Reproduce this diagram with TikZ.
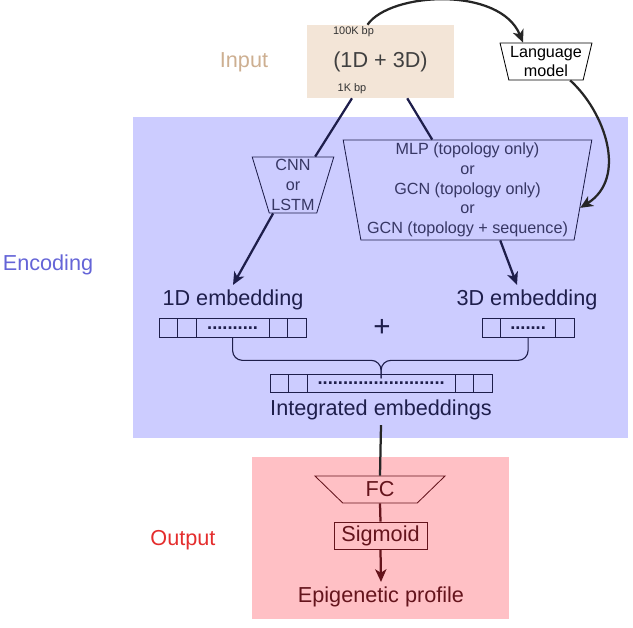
\documentclass[tikz,border=0pt]{standalone}
\usepackage{fontspec}
\setmainfont{Liberation Sans}
\usetikzlibrary{shapes.geometric,arrows.meta,calc}

\definecolor{inbg}{RGB}{243,229,215}
\definecolor{encbg}{RGB}{204,204,255}
\definecolor{outbg}{RGB}{255,192,197}
\definecolor{intxt}{RGB}{205,175,145}
\definecolor{enctxt}{RGB}{100,100,215}
\definecolor{outtxt}{RGB}{228,45,45}
\definecolor{navy}{RGB}{30,30,75}
\definecolor{navytxt}{RGB}{55,55,100}
\definecolor{darkred}{RGB}{100,20,28}

\begin{document}
\begin{tikzpicture}[x=0.025cm,y=-0.025cm,
  bigtext/.style={font=\fontsize{15.4}{18}\selectfont},
  midtext/.style={font=\fontsize{11.5}{14}\selectfont},
  bptext/.style={font=\fontsize{7.8}{9}\selectfont, text=black!80},
  trap/.style={trapezium, shape border rotate=180, trapezium stretches=true, draw, inner sep=0.5pt, align=center, line width=0.6pt},
  cell/.style={draw=navy, line width=0.6pt, minimum width=13.2pt, minimum height=13pt, inner sep=0pt, outer sep=0pt},
  dotcell/.style={cell, font=\fontsize{13}{13}\selectfont\bfseries, text=navy},
  conn/.style={draw=navy, line width=1.6pt},
  arr/.style={-{Stealth[length=9pt,width=8pt,inset=2.5pt]}},
]
    \useasboundingbox (0,0) rectangle (633,627);

    % regions
    \fill[encbg] (133,117) rectangle (628,438);
    \fill[outbg] (252,457) rectangle (509,619);

    \node[bigtext, text=intxt] (inlbl) at (244,62) {Input};
    \node[bigtext, text=enctxt] (enclbl) at (48,265) {Encoding};
    \node[bigtext, text=outtxt] (outlbl) at (183,540) {Output};

    % input
    \node[fill=inbg, minimum width=104.6pt, minimum height=51.9pt, bigtext, text=black!75] (input) at (380.5,61.5) {(1D + 3D)};
    \node[bptext] (bp100k) at (353.5,32) {100K bp};
    \node[bptext] (bp1k) at (352,89) {1K bp};
    \node[trap, trapezium angle=75, minimum width=65.4pt, minimum height=26.3pt, midtext, fill=white] (lm) at (546,61.5) {Language\\model};

    % encoders
    \node[trap, trapezium angle=73, minimum width=58.3pt, minimum height=39.8pt, midtext, draw=navy, text=navytxt] (cnn) at (293,185) {CNN\\or\\LSTM};
    \node[trap, trapezium angle=80, minimum width=177.1pt, minimum height=71.1pt, midtext, draw=navy, text=navytxt] (mlp) at (467.5,190) {MLP (topology only)\\or\\GCN (topology only)\\or\\GCN (topology + sequence)};

    % embeddings
    \node[bigtext, text=navy] (emb1d) at (233,300) {1D embedding};
    \node[bigtext, text=navy] (emb3d) at (527,300) {3D embedding};
    \node[font=\fontsize{21}{21}\selectfont, text=navy] (plus) at (382,328) {+};

    \node[cell] (a1) at (168.3,328) {};
    \node[cell] (a2) at (186.8,328) {};
    \node[dotcell, minimum width=51.9pt] (d1) at (232.6,328) {..........};
    \node[cell] (a4) at (278.4,328) {};
    \node[cell] (a5) at (296.9,328) {};

    \node[cell] (b1) at (491.3,328) {};
    \node[dotcell, minimum width=39.1pt] (d3) at (528.1,328) {.......};
    \node[cell] (b3) at (564.8,328) {};

    \node[cell] (c1) at (279.3,383.5) {};
    \node[cell] (c2) at (297.8,383.5) {};
    \node[dotcell, minimum width=105.3pt] (di) at (381.1,383.5) {.........................};
    \node[cell] (c4) at (464.4,383.5) {};
    \node[cell] (c5) at (483.0,383.5) {};

    \coordinate (bj) at ($(di.north)+(0,-14)$);
    \draw[navy, line width=0.8pt, rounded corners=7] (d1.south) -- (d1.south |- bj) -- (bj) -- ($(di.north)+(0,4)$);
    \draw[navy, line width=0.8pt, rounded corners=7] (d3.south) -- (d3.south |- bj) -- (bj) -- ($(di.north)+(0,4)$);

    \node[bigtext, text=navy] (intlbl) at (381,410) {Integrated embeddings};

    % output
    \node[trap, trapezium angle=56, minimum width=92.5pt, minimum height=19.2pt, bigtext, draw=darkred, text=darkred] (fc) at (380,489.5) {FC};
    \node[draw=darkred, line width=0.6pt, minimum width=66.2pt, minimum height=19.2pt, inner sep=1pt, bigtext, text=darkred] (sig) at (380.5,535.5) {Sigmoid};
    \node[bigtext, text=darkred] (epi) at (381,597) {Epigenetic profile};

    % connectors
    \draw[conn] (bp1k |- input.south) -- (cnn.52);
    \draw[conn] (input.-54) -- (mlp.125);
    \draw[conn, arr] (cnn.235) -- (emb1d.north);
    \draw[conn, arr] (mlp.-57) -- ($(emb3d.north)+(-10,0)$);
    \draw[line width=1.6pt, black!85, arr] ($(input.north)+(-13,0)$) .. controls (390,-8) and (500,-14) .. ($(lm.north)+(-23,0)$);
    \draw[line width=1.6pt, black!85, arr] (lm.-38) .. controls (605,112) and (628,178) .. (mlp.-9);
    \draw[line width=1.6pt, black!85] (intlbl.south) -- (fc.north);
    \draw[line width=1.6pt, darkred] (fc.south) -- (sig.north);
    \draw[line width=1.6pt, darkred, arr] (sig.south) -- (epi.north);
\end{tikzpicture}
\end{document}
